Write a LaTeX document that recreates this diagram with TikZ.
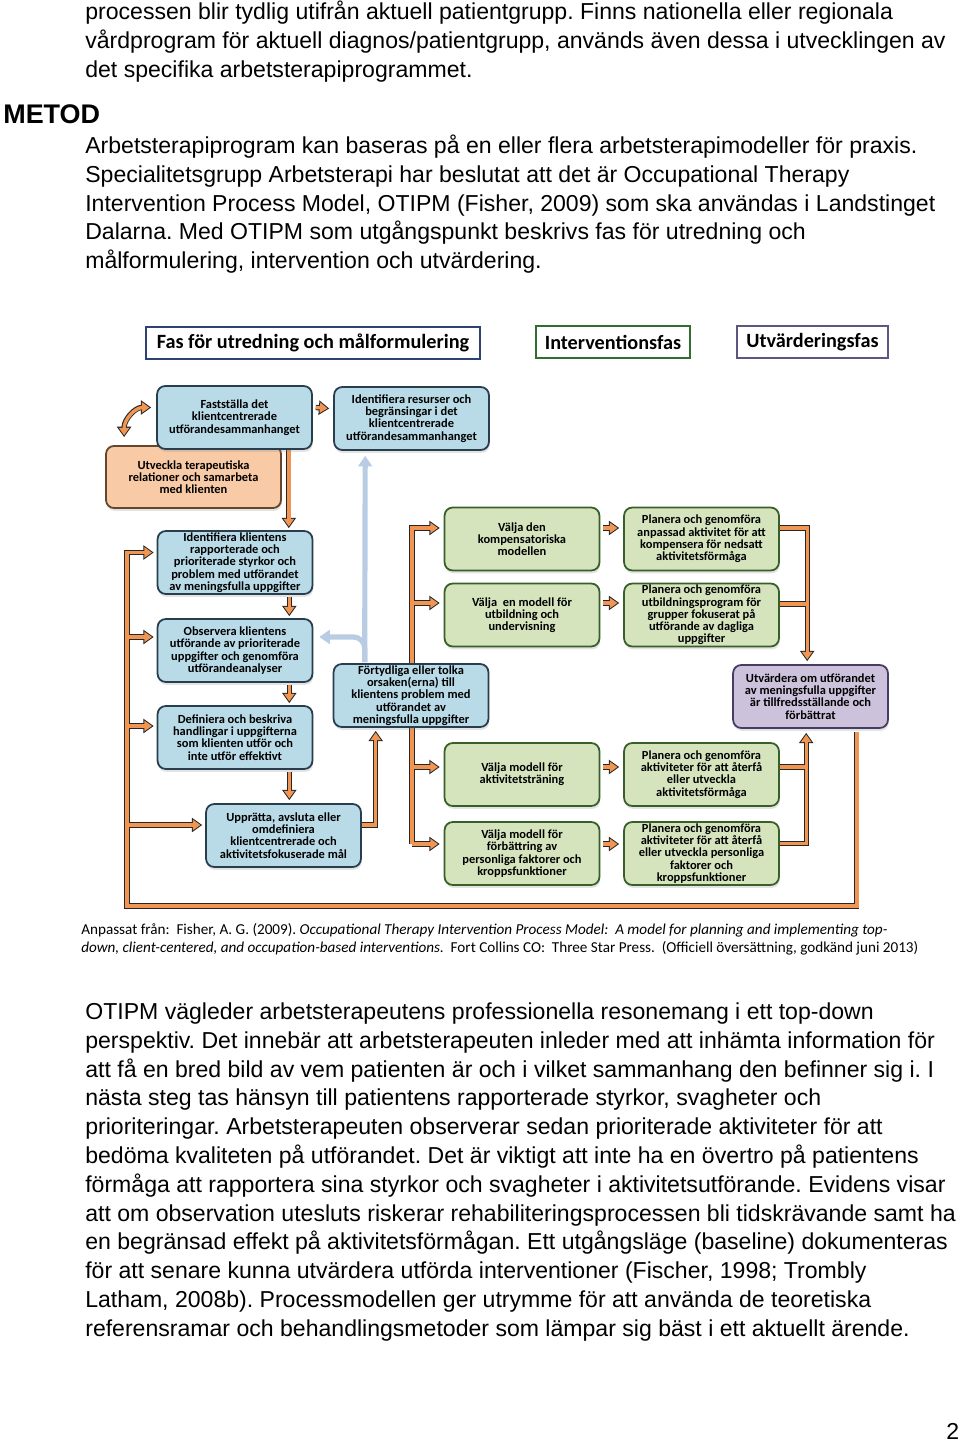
\documentclass[tikz,border=0pt]{standalone}
\usepackage{fontspec}
\setmainfont{Liberation Sans}
\newfontfamily\calfont{Carlito}
\usetikzlibrary{calc,arrows.meta,shadows}
\pgfdeclarelayer{bgzero}
\pgfdeclarelayer{background}
\pgfsetlayers{bgzero,background,main}
\definecolor{bluefill}{RGB}{184,219,231}
\definecolor{bluedraw}{RGB}{40,62,78}
\definecolor{orfill}{RGB}{248,202,166}
\definecolor{ordraw}{RGB}{100,70,45}
\definecolor{grfill}{RGB}{214,228,190}
\definecolor{grdraw}{RGB}{55,95,40}
\definecolor{pufill}{RGB}{204,194,220}
\definecolor{pudraw}{RGB}{70,60,100}
\definecolor{orangeA}{RGB}{241,150,82}
\definecolor{lblue}{RGB}{184,205,228}
\definecolor{h1draw}{RGB}{45,65,115}
\definecolor{h2draw}{RGB}{50,110,50}
\definecolor{h3draw}{RGB}{95,85,130}
\tikzset{
  bodytext/.style={anchor=base west, inner sep=0pt, font=\fontsize{14.3}{16}\selectfont},
  captext/.style={anchor=base west, inner sep=0pt, font=\calfont\fontsize{9.4}{11}\selectfont},
  box/.style={rounded corners=5pt, line width=1.1pt, minimum width=96pt, minimum height=39pt,
    inner sep=0pt, align=center, font=\calfont\bfseries\fontsize{7.7}{7.6}\selectfont,
    drop shadow={shadow xshift=0.5pt, shadow yshift=-1.8pt, opacity=0.22, fill=gray}},
  bluebox/.style={box, draw=bluedraw, fill=bluefill},
  orbox/.style={box, draw=ordraw, fill=orfill},
  grbox/.style={box, draw=grdraw, fill=grfill},
  pubox/.style={box, draw=pudraw, fill=pufill},
  header/.style={line width=1.1pt, fill=white, minimum height=20pt, inner sep=0pt,
    font=\calfont\bfseries\fontsize{12.55}{14}\selectfont},
  oout/.style={draw=black!85, line width=3.3pt, line join=miter},
  oin/.style={draw=orangeA, line width=2.1pt, line join=miter},
  arrout/.style={-{Triangle[length=6.4pt,width=8.6pt]}},
  arrin/.style={-{Triangle[length=4.7pt,width=6.3pt]}, shorten >=1.07pt},
  darrout/.style={{Triangle[length=6.4pt,width=8.6pt]}-{Triangle[length=6.4pt,width=8.6pt]}},
  darrin/.style={{Triangle[length=4.7pt,width=6.3pt]}-{Triangle[length=4.7pt,width=6.3pt]}, shorten >=1.07pt, shorten <=1.07pt},
  lbarrow/.style={draw=lblue, line width=3.2pt, -{Triangle[length=6.5pt,width=8.5pt]}},
}
\newcommand\orangenet[1]{%
  \draw[o#1, darr#1] (cA) .. controls ($(cA)+(0,-18)$) and ($(cB)+(-16,0)$) .. (cB);
  \draw[o#1, arr#1] ($(B1.east)+(3,-10)$) -- ($(B2.west)+(-4,-10)$);
  \draw[o#1, arr#1] (b1out) -- ($(b1out |- B3.north)+(0,-2)$);
  \draw[o#1, arr#1] (b3out) -- ($(b3out |- B4.north)+(0,-2)$);
  \draw[o#1, arr#1] (b4out) -- ($(b4out |- B5.north)+(0,-2)$);
  \draw[o#1, arr#1] (b5out) -- ($(b5out |- B6.north)+(0,-3)$);
  \draw[o#1, arr#1] (p1out) |- (LB) |- (b3in);
  \draw[o#1, arr#1] (LB |- b4in) -- (b4in);
  \draw[o#1, arr#1] (LB |- b5in) -- (b5in);
  \draw[o#1, arr#1] (LB |- b6in) -- (b6in);
  \draw[o#1, arr#1] (b6out) -| (b7in);
  \draw[o#1, arr#1] (GX |- g4in) -- (GX |- g1in) -- (g1in);
  \draw[o#1, arr#1] (GX |- g4in) -- (g4in);
  \draw[o#1, arr#1] (GX |- g2in) -- (g2in);
  \draw[o#1, arr#1] (GX |- g3in) -- (g3in);
  \draw[o#1, arr#1] ($(G1.east)+(3,-11)$) -- ($(G5.west)+(-4,-11)$);
  \draw[o#1, arr#1] ($(G2.east)+(3,-12)$) -- ($(G6.west)+(-4,-12)$);
  \draw[o#1, arr#1] ($(G3.east)+(3,-7.5)$) -- ($(G7.west)+(-4,-7.5)$);
  \draw[o#1, arr#1] ($(G4.east)+(3,-9.5)$) -- ($(G8.west)+(-4,-9.5)$);
  \draw[o#1, arr#1] (g5out) -| (p1tin);
  \draw[o#1] (g6out) -- (p1tin |- g6out);
  \draw[o#1, arr#1] (g8out) -| (p1bin);
  \draw[o#1] (g7out) -- (p1bin |- g7out);
}
\begin{document}
\frenchspacing
\begin{tikzpicture}[x=0.62pt,y=-0.62pt]
\begin{pgfonlayer}{bgzero}
\fill[white] (0,0) rectangle (960,1442);
\end{pgfonlayer}
\useasboundingbox (0,0) rectangle (960,1442);

% body text top
\node[bodytext] (t1) at (85,19.5) {processen blir tydlig utifrån aktuell patientgrupp. Finns nationella eller regionala};
\node[bodytext] (t2) at (85,48.3) {vårdprogram för aktuell diagnos/patientgrupp, används även dessa i utvecklingen av};
\node[bodytext] (t3) at (85,77.1) {det specifika arbetsterapiprogrammet.};
\node[anchor=base west, inner sep=0pt, font=\bfseries\fontsize{16.7}{18}\selectfont] (metod) at (3,123.5) {METOD};
\node[bodytext] (t4) at (85,153.5) {Arbetsterapiprogram kan baseras på en eller flera arbetsterapimodeller för praxis.};
\node[bodytext] (t5) at (85,182.3) {Specialitetsgrupp Arbetsterapi har beslutat att det är Occupational Therapy};
\node[bodytext] (t6) at (85,211.1) {Intervention Process Model, OTIPM (Fisher, 2009) som ska användas i Landstinget};
\node[bodytext] (t7) at (85,239.9) {Dalarna. Med OTIPM som utgångspunkt beskrivs fas för utredning och};
\node[bodytext] (t8) at (85,268.7) {målformulering, intervention och utvärdering.};

% headers
\node[header, draw=h1draw, minimum width=207pt] (H1) at (313,343) {Fas för utredning och målformulering};
\node[header, draw=h2draw, minimum width=95.5pt] (H2) at (613,342) {Interventionsfas};
\node[header, draw=h3draw, minimum width=93.6pt] (H3) at (812.5,342) {Utvärderingsfas};

% boxes
\node[orbox, minimum width=108.5pt, minimum height=38.5pt] (O1) at (193.5,477) {Utveckla terapeutiska\\relationer och samarbeta\\med klienten};
\node[bluebox] (B1) at (234.5,417.5) {Fastställa det\\klientcentrerade\\utförandesammanhanget};
\node[bluebox] (B2) at (411.5,418.5) {Identifiera resurser och\\begränsingar i det\\klientcentrerade\\utförandesammanhanget};
\node[bluebox] (B3) at (235,562.5) {Identifiera klientens\\rapporterade och\\prioriterade styrkor och\\problem med utförandet\\av meningsfulla uppgifter};
\node[bluebox] (B4) at (235,650.5) {Observera klientens\\utförande av prioriterade\\uppgifter och genomföra\\utförandeanalyser};
\node[bluebox] (B5) at (235,737.5) {Definiera och beskriva\\handlingar i uppgifterna\\som klienten utför och\\inte utför effektivt};
\node[bluebox] (B6) at (283.5,835.5) {Upprätta, avsluta eller\\omdefiniera\\klientcentrerade och\\aktivitetsfokuserade mål};
\node[bluebox] (B7) at (411,695.5) {Förtydliga eller tolka\\orsaken(erna) till\\klientens problem med\\utförandet av\\meningsfulla uppgifter};
\node[grbox] (G1) at (522,539) {Välja den\\kompensatoriska\\modellen};
\node[grbox] (G2) at (522,615) {Välja \ en modell för\\utbildning och\\undervisning};
\node[grbox] (G3) at (522,774.5) {Välja modell för\\aktivitetsträning};
\node[grbox] (G4) at (522,853.5) {Välja modell för\\förbättring av\\personliga faktorer och\\kroppsfunktioner};
\node[grbox] (G5) at (701.5,539) {Planera och genomföra\\anpassad aktivitet för att\\kompensera för nedsatt\\aktivitetsförmåga};
\node[grbox] (G6) at (701.5,615) {Planera och genomföra\\utbildningsprogram för\\grupper fokuserat på\\utförande av dagliga\\uppgifter};
\node[grbox] (G7) at (701.5,774.5) {Planera och genomföra\\aktiviteter för att återfå\\eller utveckla\\aktivitetsförmåga};
\node[grbox] (G8) at (701.5,853.5) {Planera och genomföra\\aktiviteter för att återfå\\eller utveckla personliga\\faktorer och\\kroppsfunktioner};
\node[pubox] (P1) at (810.5,696.5) {Utvärdera om utförandet\\av meningsfulla uppgifter\\är tillfredsställande och\\förbättrat};

% connector coordinates
\coordinate (cA) at ($(O1.north west)+(19,-8)$);
\coordinate (cB) at ($(B1.west)+(-5,-10)$);
\coordinate (b1out) at ($(B1.south east)+(-24,0)$);
\coordinate (b3out) at ($(B3.south east)+(-24,2)$);
\coordinate (b4out) at ($(B4.south east)+(-24,2)$);
\coordinate (b5out) at ($(B5.south east)+(-24,2)$);
\coordinate (LB) at (127,906);
\coordinate (p1out) at ($(P1.south east)+(-32,3)$);
\coordinate (b3in) at ($(B3.west)+(-3,-10)$);
\coordinate (b4in) at ($(B4.west)+(-3,-13.5)$);
\coordinate (b5in) at ($(B5.west)+(-3,-11.5)$);
\coordinate (b6in) at ($(B6.west)+(-3,-10.5)$);
\coordinate (b6out) at ($(B6.east)+(0,-10.5)$);
\coordinate (b7in) at ($(B7.south west)+(43,3)$);
\coordinate (GX) at (412,700);
\coordinate (g1in) at ($(G1.west)+(-4,-11)$);
\coordinate (g2in) at ($(G2.west)+(-4,-12)$);
\coordinate (g3in) at ($(G3.west)+(-4,-7.5)$);
\coordinate (g4in) at ($(G4.west)+(-4,-9.5)$);
\coordinate (g5out) at ($(G5.east)+(0,-11)$);
\coordinate (g6out) at ($(G6.east)+(0,-11)$);
\coordinate (g7out) at ($(G7.east)+(0,-7.5)$);
\coordinate (g8out) at ($(G8.east)+(0,-10)$);
\coordinate (p1tin) at ($(P1.north west)+(75,-3)$);
\coordinate (p1bin) at ($(P1.south west)+(74,4)$);
\coordinate (lbstart) at ($(B7.north west)+(32,-1)$);
\coordinate (lbtop) at ($(B2.south west)+(32,5)$);
\coordinate (lbleft) at ($(B4.east)+(6,-13.5)$);

\begin{pgfonlayer}{background}
\orangenet{out}
\orangenet{in}
\draw[lbarrow] (lbstart) -- (lbtop);
\draw[lbarrow, rounded corners=7pt] (lbstart) |- (lbleft);
\end{pgfonlayer}

% caption
\node[captext] (c1) at (81,934.5) {Anpassat från: \ Fisher, A. G. (2009). \textit{Occupational Therapy Intervention Process Model: \ A model for planning and implementing top-}};
\node[captext] (c2) at (81,952.5) {\textit{down, client-centered, and occupation-based interventions.} \ Fort Collins CO: \ Three Star Press. \ (Officiell översättning, godkänd juni 2013)};

% bottom text
\node[bodytext] (u1) at (85,1019.5) {OTIPM vägleder arbetsterapeutens professionella resonemang i ett top-down};
\node[bodytext] (u2) at (85,1048.3) {perspektiv. Det innebär att arbetsterapeuten inleder med att inhämta information för};
\node[bodytext] (u3) at (85,1077.1) {att få en bred bild av vem patienten är och i vilket sammanhang den befinner sig i. I};
\node[bodytext] (u4) at (85,1105.9) {nästa steg tas hänsyn till patientens rapporterade styrkor, svagheter och};
\node[bodytext] (u5) at (85,1134.7) {prioriteringar. Arbetsterapeuten observerar sedan prioriterade aktiviteter för att};
\node[bodytext] (u6) at (85,1163.5) {bedöma kvaliteten på utförandet. Det är viktigt att inte ha en övertro på patientens};
\node[bodytext] (u7) at (85,1192.3) {förmåga att rapportera sina styrkor och svagheter i aktivitetsutförande. Evidens visar};
\node[bodytext] (u8) at (85,1221.1) {att om observation utesluts riskerar rehabiliteringsprocessen bli tidskrävande samt ha};
\node[bodytext] (u9) at (85,1249.9) {en begränsad effekt på aktivitetsförmågan. Ett utgångsläge (baseline) dokumenteras};
\node[bodytext] (u10) at (85,1278.7) {för att senare kunna utvärdera utförda interventioner (Fischer, 1998; Trombly};
\node[bodytext] (u11) at (85,1307.5) {Latham, 2008b). Processmodellen ger utrymme för att använda de teoretiska};
\node[bodytext] (u12) at (85,1336.3) {referensramar och behandlingsmetoder som lämpar sig bäst i ett aktuellt ärende.};
\node[bodytext] (pg) at (946,1439) {2};
\end{tikzpicture}
\end{document}
